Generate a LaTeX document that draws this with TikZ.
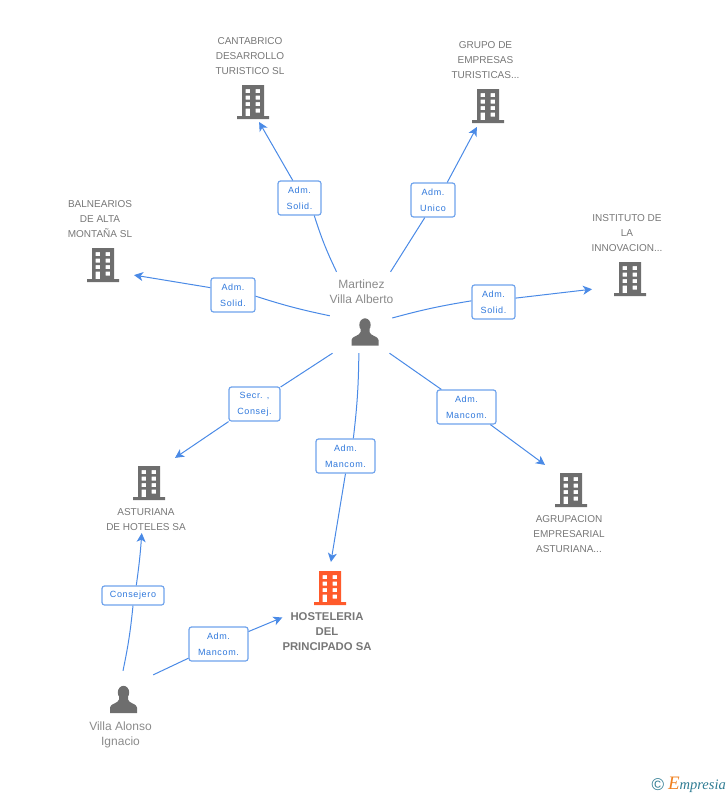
\documentclass[tikz,border=0pt]{standalone}
\usepackage{fontspec}
\setmainfont{Liberation Sans}
\newfontfamily\rolefont[LetterSpace=7]{Liberation Sans}
\newfontfamily\logofont{Liberation Serif}
\usetikzlibrary{arrows.meta, positioning}
\definecolor{iconcolor}{HTML}{6E6E6E}
\definecolor{redcolor}{HTML}{FF5A2B}
\definecolor{linkcolor}{HTML}{4A8AE6}
\definecolor{rolecolor}{HTML}{2F78DC}
\definecolor{boxcolor}{HTML}{6FA3EC}
\definecolor{namecolor}{HTML}{777777}
\definecolor{logocolor}{HTML}{2F7C93}
\definecolor{logoorange}{HTML}{F07F1E}

\begin{document}
\begin{tikzpicture}[x=1pt, y=-1pt]
	\tikzset {>={Stealth[length=9pt, width=9pt, inset=2.5pt]}, every edge/.style={draw=linkcolor, line width=1pt},
		bldg/.style={inner sep=0, minimum width=32pt, minimum height=34pt, path picture={
			\fill[bldgfill, even odd rule, shift={(path picture bounding box.center)}]
				(-11,-17) rectangle (11,14) (-16,14) rectangle (16,17)
				(-7.5,-13) rectangle (-3,-9) (2.5,-13) rectangle (7,-9)
				(-7.5,-6.5) rectangle (-3,-2.5) (2.5,-6.5) rectangle (7,-2.5)
				(-7.5,0) rectangle (-3,4) (2.5,0) rectangle (7,4)
				(-7.5,6.5) rectangle (-3,14) (2.5,6.5) rectangle (7,10.5);
		}},
		person/.style={inner sep=0, minimum width=28pt, minimum height=28pt, path picture={
			\fill[iconcolor, shift={(path picture bounding box.center)}]
				(0,-7) ellipse (5.7 and 6.7)
				(-13.5,13.5) -- (-13.5,8) .. controls (-13.5,4) and (-5,4) .. (-4.5,0) -- (-4.5,-3) -- (4.5,-3) -- (4.5,0)
				.. controls (5,4) and (13.5,4) .. (13.5,8) -- (13.5,13.5) -- cycle;
		}},
		hub/.style={inner sep=0, minimum width=#1},
		nametext/.style={align=center, font=\fontsize{10}{15}\selectfont, text=namecolor, inner sep=0},
		persontext/.style={align=center, font=\fontsize{12}{15}\selectfont, text=namecolor!85, inner sep=0},
		role/.style={draw=boxcolor, fill=white, line width=1.2pt, rounded corners=2.5pt, align=center,
			font=\rolefont\fontsize{9}{16}\selectfont, text=rolecolor, inner sep=0, minimum height=34pt}}
	\colorlet{bldgfill}{iconcolor}
	\useasboundingbox (0,0) rectangle (728,795);

	\node[hub=62pt, minimum height=81pt] (martinez) at (361,312.5) {};
	\node[person] (martinezicon) at (365,332) {};
	\node[persontext] (martineztext) at (361.5,291.5) {Martinez\\Villa Alberto};

	\node[hub=60pt, minimum height=50pt] (villa) at (123,696) {};
	\node[person] (villaicon) at (123.5,699.5) {};
	\node[persontext] (villatext) at (120.5,734.5) {Villa Alonso\\Ignacio};

	\node[bldg, outer sep=3pt] (cantabrico) at (253,102) {};
	\node[nametext] (cantabricotext) at (250,56) {CANTABRICO\\DESARROLLO\\TURISTICO SL};
	\node[bldg, outer sep=4pt] (grupo) at (488,106) {};
	\node[nametext] (grupotext) at (485.5,60) {GRUPO DE\\EMPRESAS\\TURISTICAS...};
	\node[bldg, outer sep=22pt] (instituto) at (630,279) {};
	\node[nametext] (institutotext) at (627,233) {INSTITUTO DE\\LA\\INNOVACION...};
	\node[bldg, outer sep=15pt] (balnearios) at (103,265) {};
	\node[nametext] (balneariostext) at (100,219) {BALNEARIOS\\DE ALTA\\MONTAÑA SL};
	\node[bldg, outer sep=10pt] (asturiana) at (149,483) {};
	\node[nametext, outer sep=2pt] (asturianatext) at (146,520) {ASTURIANA\\DE HOTELES SA};
	\node[bldg, outer sep=10pt] (agrupacion) at (571,490) {};
	\node[nametext] (agrupaciontext) at (569,534) {AGRUPACION\\EMPRESARIAL\\ASTURIANA...};
	\colorlet{bldgfill}{redcolor}
	\node[bldg, outer sep=9pt] (hosteleria) at (330,588) {};
	\node[nametext, font=\bfseries\fontsize{11.3}{15}\selectfont] (hosteleriatext) at (327,632) {HOSTELERIA\\DEL\\PRINCIPADO SA};

	\node[role, minimum width=43pt] (solidcantabrico) at (299.5,198) {Adm.\\Solid.};
	\node[role, minimum width=44pt] (unicogrupo) at (433,200) {Adm.\\Unico};
	\node[role, minimum width=44pt] (solidbalnearios) at (233,295) {Adm.\\Solid.};
	\node[role, minimum width=43pt] (solidinstituto) at (493.5,302) {Adm.\\Solid.};
	\node[role, minimum width=51pt] (secrasturiana) at (254.5,404) {Secr. ,\\Consej.};
	\node[role, minimum width=59pt] (mancomhosteleria) at (345.5,456) {Adm.\\Mancom.};
	\node[role, minimum width=59pt] (mancomagrupacion) at (466.5,407) {Adm.\\Mancom.};
	\node[role, minimum width=62pt, minimum height=19pt] (consejero) at (133,595.5) {Consejero};
	\node[role, minimum width=59pt] (mancomvilla) at (218.5,644) {Adm.\\Mancom.};

	\node[inner sep=0, font=\fontsize{17}{17}\selectfont, text=logocolor] (logocopy) at (658,785) {\textcopyright};
	\node[inner sep=0, font=\logofont\itshape\fontsize{14.5}{14.5}\selectfont, text=logocolor, anchor=east] (logo) at (726,785)
		{\textcolor{logoorange}{\fontsize{19}{19}\selectfont E}mpresia};

	\draw
		(martinez.121) edge[bend left=4] (solidcantabrico.310)
		(solidcantabrico.111) edge[->] (cantabrico.287)
		(martinez.54) edge (unicogrupo.245)
		(unicogrupo.51) edge[->] (grupo.242)
		(martinez.186) edge[bend left=3] (solidbalnearios.357)
		(solidbalnearios.162) edge[->] (balnearios.342)
		(martinez.350) edge[bend left=3] (solidinstituto.177)
		(solidinstituto.10) edge[->] (instituto.195)
		(martinez.235) edge (secrasturiana)
		(secrasturiana) edge[->] (asturiana.44)
		(martinez.267) edge[bend left=3] (mancomhosteleria.66)
		(mancomhosteleria.270) edge[->] (hosteleria.88)
		(martinez.305) edge (mancomagrupacion)
		(mancomagrupacion) edge[->] (agrupacion.136)
		(villa.north) edge[bend right=3] (consejero.270)
		(consejero.72) edge[->, bend right=2] (asturianatext.252)
		(villa.35) edge (mancomvilla)
		(mancomvilla) edge[->] (hosteleriatext.162);
\end{tikzpicture}
\end{document}
